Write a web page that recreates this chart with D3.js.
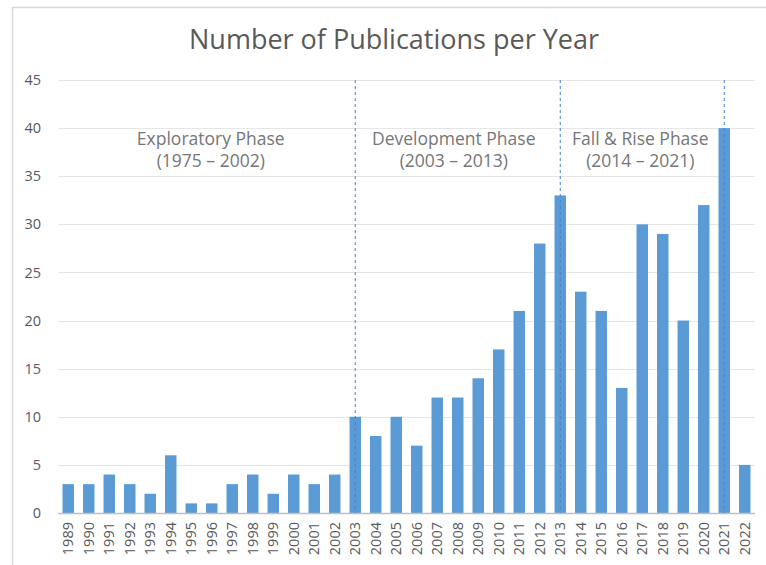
<!DOCTYPE html>
<html>
<head>
<meta charset="utf-8">
<script src="https://cdn.jsdelivr.net/npm/d3@7"></script>
<style>
  body { margin: 0; background: #fff; }
  text { font-family: "Open Sans", "Noto Sans", sans-serif; }
</style>
</head>
<body>
<div id="chart"></div>
<script>
const years = ["1989", "1990", "1991", "1992", "1993", "1994", "1995", "1996", "1997", "1998",
  "1999", "2000", "2001", "2002", "2003", "2004", "2005", "2006", "2007", "2008",
  "2009", "2010", "2011", "2012", "2013", "2014", "2015", "2016", "2017", "2018",
  "2019", "2020", "2021", "2022"];
const counts = [3, 3, 4, 3, 2, 6, 1, 1, 3, 4,
  2, 4, 3, 4, 10, 8, 10, 7, 12, 12,
  14, 17, 21, 28, 33, 23, 21, 13, 30, 29,
  20, 32, 40, 5];
const yTicks = [0, 5, 10, 15, 20, 25, 30, 35, 40, 45];
const phaseNames = ["Exploratory Phase", "Development Phase", "Fall & Rise Phase"];
const phaseRanges = ["(1975 – 2002)", "(2003 – 2013)", "(2014 – 2021)"];
const phaseLabelYears = ["1996", "2008", "2017"];
const dividerYears = ["2003", "2013", "2021"];

const width = 766, height = 565;
const margin = { top: 80, right: 11, bottom: 52, left: 58 };

const svg = d3.select("#chart").append("svg")
  .attr("width", width)
  .attr("height", height);

// chart frame
svg.append("path")
  .attr("d", `M12.5,${height} V7.5 H${width}`)
  .attr("fill", "none")
  .attr("stroke", "#d9d9d9")
  .attr("stroke-width", 1.5);

const x = d3.scaleBand()
  .domain(years)
  .range([margin.left, width - margin.right])
  .paddingInner(0.44)
  .paddingOuter(0.22);

const y = d3.scaleLinear()
  .domain([0, 45])
  .range([height - margin.bottom, margin.top]);

// gridlines
svg.append("g")
  .selectAll("line")
  .data(yTicks.slice(1))
  .join("line")
  .attr("x1", margin.left)
  .attr("x2", width - margin.right)
  .attr("y1", (d) => Math.round(y(d)) + 0.5)
  .attr("y2", (d) => Math.round(y(d)) + 0.5)
  .attr("stroke", "#e6e6e6")
  .attr("stroke-width", 1.2);

// y labels
svg.append("g")
  .selectAll("text")
  .data(yTicks)
  .join("text")
  .attr("x", 41)
  .attr("y", (d) => y(d))
  .attr("dy", "0.35em")
  .attr("text-anchor", "end")
  .attr("font-size", 14.5)
  .attr("fill", "#595959")
  .text((d) => d);

// bars
svg.append("g")
  .selectAll("rect")
  .data(years)
  .join("rect")
  .attr("x", (d) => x(d))
  .attr("width", x.bandwidth())
  .attr("y", (d, i) => y(counts[i]))
  .attr("height", (d, i) => y(0) - y(counts[i]))
  .attr("fill", "#5b9bd5");

// x axis line
svg.append("line")
  .attr("x1", margin.left)
  .attr("x2", width - margin.right)
  .attr("y1", y(0) + 0.5)
  .attr("y2", y(0) + 0.5)
  .attr("stroke", "#bfbfbf")
  .attr("stroke-width", 1.5);

// x labels
svg.append("g")
  .selectAll("text")
  .data(years)
  .join("text")
  .attr("transform", (d) => `translate(${x(d) + x.bandwidth() / 2},${y(0) + 9}) rotate(-90)`)
  .attr("dy", "0.35em")
  .attr("text-anchor", "end")
  .attr("font-size", 14.5)
  .attr("fill", "#595959")
  .text((d) => d);

// phase dividers
svg.append("g")
  .selectAll("line")
  .data(dividerYears)
  .join("line")
  .attr("x1", (d) => x(d) + x.bandwidth() / 2)
  .attr("x2", (d) => x(d) + x.bandwidth() / 2)
  .attr("y1", y(45))
  .attr("y2", y(0))
  .attr("stroke", "#4a7fd0")
  .attr("stroke-width", 1)
  .attr("stroke-dasharray", "3,3");

// phase labels
const labelX = (i) => x(phaseLabelYears[i]) + x.bandwidth() / 2 + [-1, -4, -2][i];
const phases = svg.append("g")
  .selectAll("text")
  .data(phaseNames)
  .join("text")
  .attr("x", (d, i) => labelX(i))
  .attr("text-anchor", "middle")
  .attr("font-size", 17.5)
  .attr("fill", "#767676");
phases.append("tspan")
  .attr("y", 145)
  .text((d) => d);
phases.append("tspan")
  .attr("x", (d, i) => labelX(i))
  .attr("y", 167)
  .text((d, i) => phaseRanges[i]);

// title
svg.append("text")
  .attr("x", 394)
  .attr("y", 49)
  .attr("text-anchor", "middle")
  .attr("font-size", 27)
  .attr("fill", "#595959")
  .text("Number of Publications per Year");
</script>
</body>
</html>
